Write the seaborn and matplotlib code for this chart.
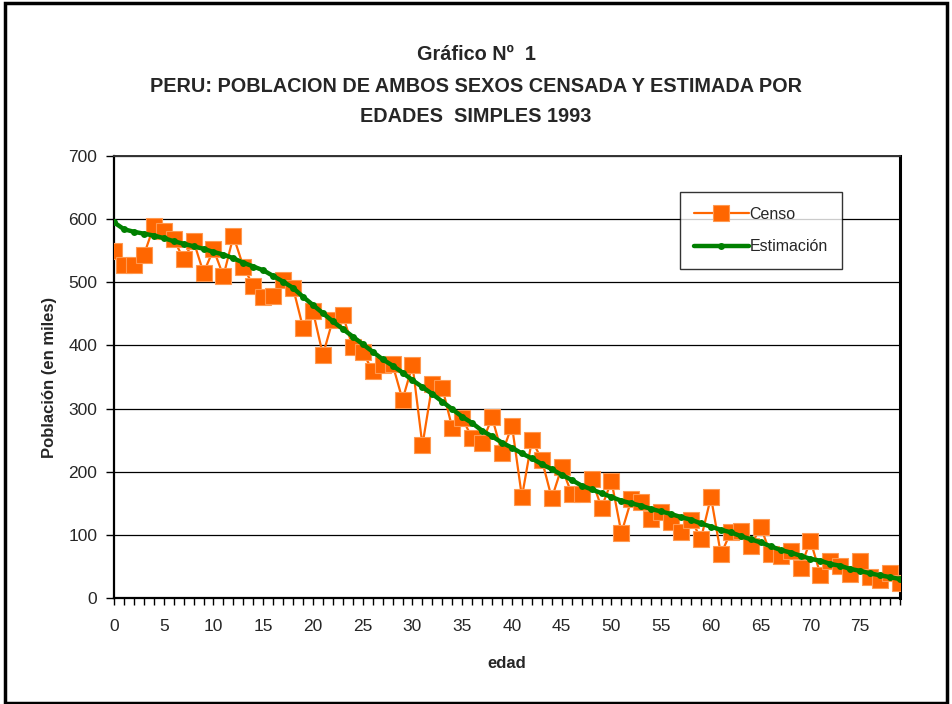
import numpy as np
import pandas as pd
import matplotlib
matplotlib.use("Agg")
import matplotlib.pyplot as plt
from matplotlib.patches import Rectangle
from matplotlib.ticker import MultipleLocator
import seaborn as sns

edad = list(range(80))
censo = [550, 528, 528, 543, 589, 581, 568, 537, 565, 515,
         552, 510, 573, 525, 494, 476, 478, 503, 491, 428,
         454, 385, 441, 448, 397, 390, 359, 369, 370, 314,
         369, 242, 339, 333, 269, 285, 253, 246, 286, 229,
         273, 160, 250, 219, 158, 207, 165, 165, 189, 143,
         185, 103, 156, 152, 125, 136, 120, 105, 124, 94,
         160, 69, 105, 106, 82, 113, 69, 66, 75, 48,
         91, 37, 58, 51, 38, 58, 33, 29, 39, 23]
estimacion = [595, 584, 580, 577, 574, 570, 565, 561, 557, 553,
              548, 544, 538, 531, 525, 519, 510, 501, 491, 477,
              464, 451, 438, 426, 414, 402, 390, 378, 368, 357,
              345, 334, 323, 311, 299, 287, 277, 265, 256, 246,
              238, 229, 221, 212, 204, 195, 187, 178, 172, 166,
              160, 154, 150, 146, 141, 137, 133, 128, 124, 118,
              113, 108, 104, 98, 93, 88, 82, 76, 72, 67,
              62, 59, 54, 51, 46, 43, 39, 36, 33, 30]

df = pd.DataFrame({"edad": edad, "Censo": censo, "Estimación": estimacion})

sns.set_style("white")
plt.rcParams['font.family'] = ['Liberation Sans Narrow', 'Liberation Sans', 'DejaVu Sans']

fig = plt.figure(figsize=(9.52, 7.04), dpi=100)
ax = fig.add_axes([114/952, 1 - 598/704, 786/952, 442/704])

sns.lineplot(data=df, x="edad", y="Censo", ax=ax, color="#FF6600", linewidth=1.6,
             marker="s", markersize=11, markeredgecolor="#FF9950", markeredgewidth=0.8,
             label="Censo", zorder=3)
sns.lineplot(data=df, x="edad", y="Estimación", ax=ax, color="#008000", linewidth=3.2,
             marker="o", markersize=5, markeredgewidth=0, label="Estimación", zorder=4)

ax.set_xlim(0, 79)
ax.set_ylim(0, 700)
ax.yaxis.set_major_locator(MultipleLocator(100))
ax.xaxis.set_major_locator(MultipleLocator(5))
ax.xaxis.set_minor_locator(MultipleLocator(1))
ax.grid(axis="y", color="black", linewidth=0.9)
ax.grid(axis="x", visible=False)
ax.set_axisbelow(True)

for s in ["left", "bottom"]:
    ax.spines[s].set_color("black")
    ax.spines[s].set_linewidth(1.6)
ax.spines["right"].set_color("black")
ax.spines["right"].set_linewidth(2.2)
ax.spines["top"].set_color("#333333")
ax.spines["top"].set_linewidth(1.4)

ax.tick_params(axis="y", which="major", direction="out", length=6, width=1,
               color="black", left=True, labelsize=12.5, pad=6)
ax.tick_params(axis="x", which="both", direction="out", length=5, width=1,
               color="black", bottom=True, labelsize=12.5, pad=10)

ax.set_xlabel("edad", fontsize=12, fontweight="bold", labelpad=16)
ax.set_ylabel("Población (en miles)", fontsize=12, fontweight="bold", labelpad=8)

leg = ax.legend(loc="upper left", bbox_to_anchor=(0.72, 0.918), frameon=True,
                fancybox=False, shadow=False, edgecolor="black", fontsize=11.5,
                handlelength=3.4, handletextpad=0.05, borderpad=0.9, labelspacing=1.1,
                borderaxespad=0)
leg.get_frame().set_linewidth(1.0)

fig.text(0.5, 1 - 55/704, "Gráfico Nº  1", ha="center", va="center",
         fontsize=14.3, fontweight="bold")
fig.text(0.5, 1 - 86/704, "PERU: POBLACION DE AMBOS SEXOS CENSADA Y ESTIMADA POR",
         ha="center", va="center", fontsize=14.3, fontweight="bold")
fig.text(0.5, 1 - 116/704, "EDADES  SIMPLES 1993", ha="center", va="center",
         fontsize=14.3, fontweight="bold")

fig.patches.append(Rectangle((5/952, 1/704), 942/952, 700/704, transform=fig.transFigure,
                             fill=False, edgecolor="black", linewidth=2.5))

fig.savefig("out.png", dpi=100)
